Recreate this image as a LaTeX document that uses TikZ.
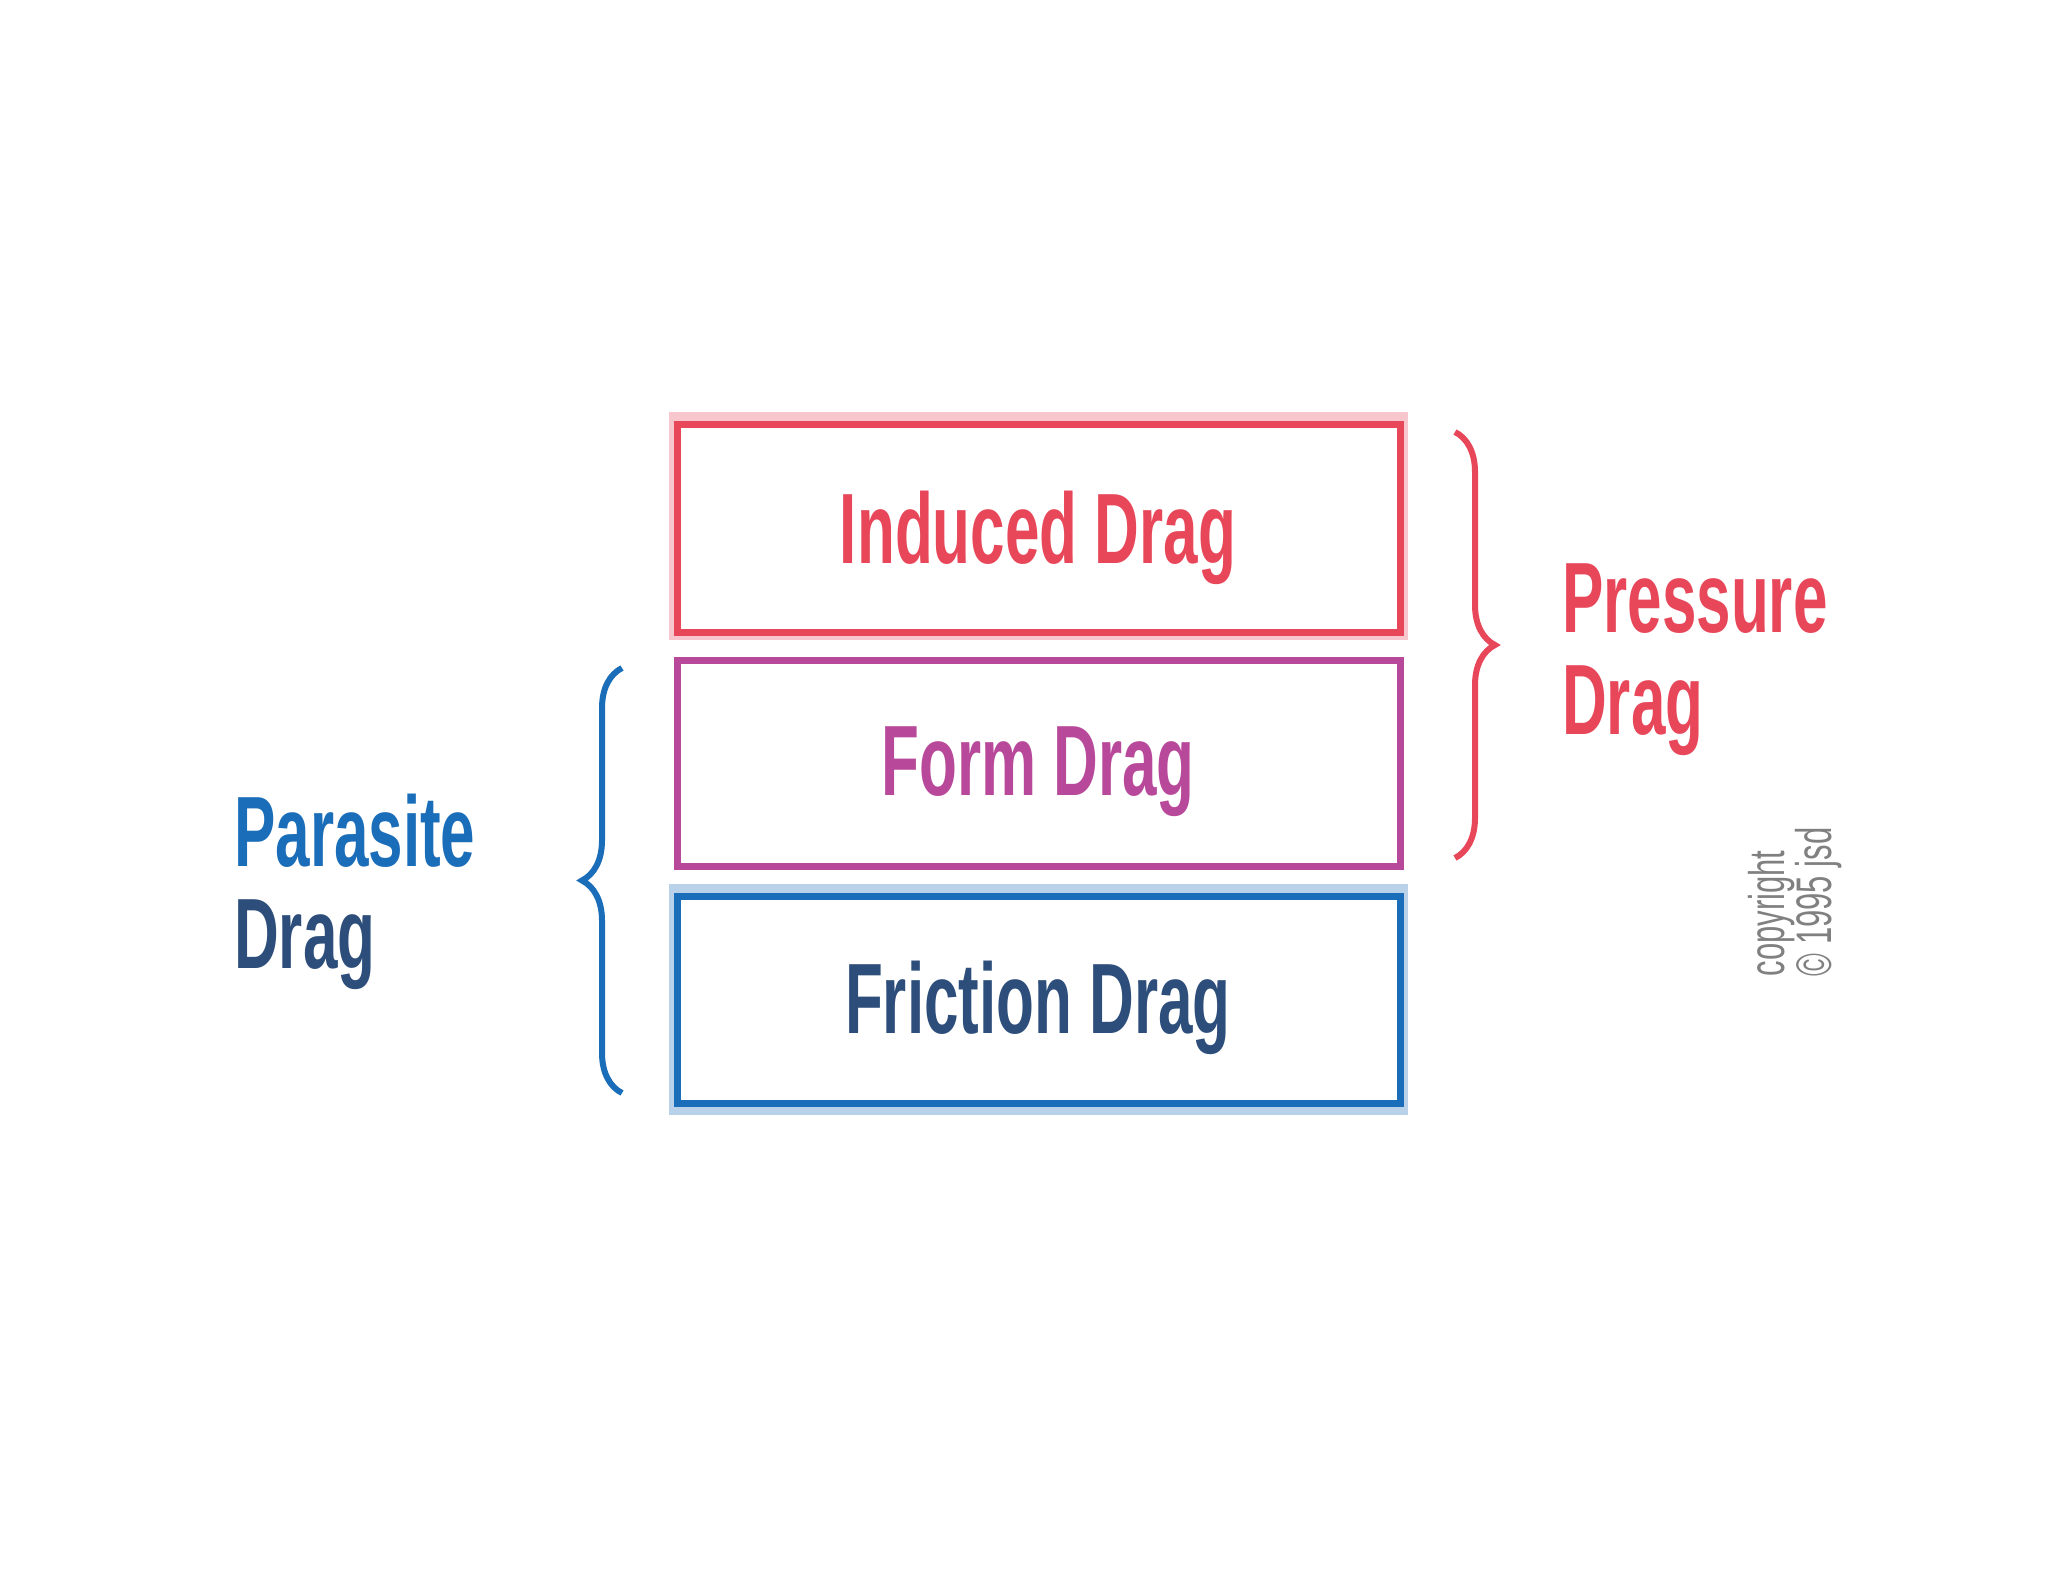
\documentclass[tikz,border=0pt]{standalone}
\usepackage{fontspec}
\setmainfont{Liberation Sans}
\usetikzlibrary{decorations.pathreplacing}
\definecolor{cred}{HTML}{E8475A}
\definecolor{cmag}{HTML}{B8489A}
\definecolor{cblue}{HTML}{1A6DB8}
\definecolor{cnavy}{HTML}{2D4E7A}
\newcommand{\nar}[1]{\scalebox{0.62}[1]{#1}}
\begin{document}
\begin{tikzpicture}[x=1pt,y=-1pt,
  boxx/.style={draw=#1,line width=7pt,fill=white},
  lbl/.style={font=\bfseries\fontsize{100}{110}\selectfont,inner sep=0pt},
  brc/.style={draw=#1,line width=6pt,decorate,decoration={brace,amplitude=40pt}}]
\useasboundingbox (0,0) rectangle (2048,1582);
\fill[white] (0,0) rectangle (2048,1582);
\draw[boxx=cred,draw opacity=0.3,line width=16pt] (677,420) rectangle (1400,632);
\draw[boxx=cred] (677,424) rectangle (1400,632);
\node[lbl,text=cred] (ind) at (1038,538) {\nar{Induced Drag}};
\draw[boxx=cmag] (677,660) rectangle (1400,866);
\node[lbl,text=cmag] (frm) at (1038,772) {\nar{Form Drag}};
\draw[boxx=cblue,draw opacity=0.3,line width=16pt] (677,892) rectangle (1400,1107);
\draw[boxx=cblue] (677,896) rectangle (1400,1103);
\node[lbl,text=cnavy] (fri) at (1038,1008) {\nar{Friction Drag}};
\coordinate (pt) at (1455,432);
\coordinate (pb) at (1455,858);
\draw[brc=cred] (pt) -- (pb);
\coordinate (qb) at (622,1093);
\coordinate (qt) at (622,668);
\draw[brc=cblue] (qb) -- (qt);
\node[lbl,text=cred,anchor=west,align=left] (pd) at (1562,660) {\nar{Pressure}\\[-8pt]\nar{Drag}};
\node[lbl,text=cblue,anchor=west,align=left] (pa) at (234,892) {\nar{Parasite}\\[-8pt]\textcolor{cnavy}{\nar{Drag}}};
\node[rotate=90,font=\fontsize{50}{44}\selectfont,text=gray,align=left] (cp) at (1795,902) {\nar{copyright}\\\nar{© 1995 jsd}};
\end{tikzpicture}
\end{document}
